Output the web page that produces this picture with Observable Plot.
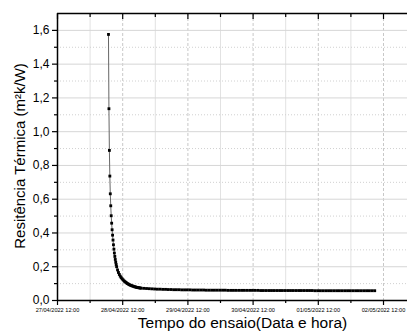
<!DOCTYPE html>
<html>
<head>
<meta charset="utf-8">
<script src="https://cdn.jsdelivr.net/npm/d3@7"></script>
<script src="https://cdn.jsdelivr.net/npm/@observablehq/plot@0.6"></script>
<style>
  html, body { margin: 0; padding: 0; background: #fff; }
  #chart svg { display: block; }
</style>
</head>
<body>
<div id="chart"></div>
<script>
// ---- data ----
const xTitle = "Tempo do ensaio(Data e hora)";
const yTitle = "Resitência Térmica (m²k/W)";
const xDomain = ["2022-04-27T12:00Z", "2022-05-02T20:50Z"];
const yDomain = [0, 1.7];
const majorXTicks = ["2022-04-27T12:00Z", "2022-04-28T12:00Z", "2022-04-29T12:00Z", "2022-04-30T12:00Z", "2022-05-01T12:00Z", "2022-05-02T12:00Z"];
const minorXTicks = ["2022-04-28T00:00Z", "2022-04-29T00:00Z", "2022-04-30T00:00Z", "2022-05-01T00:00Z", "2022-05-02T00:00Z"];
const majorYTicks = [0, 0.2, 0.4, 0.6, 0.8, 1.0, 1.2, 1.4, 1.6];
const minorYTicks = [0.1, 0.3, 0.5, 0.7, 0.9, 1.1, 1.3, 1.5];

// measurement series (sampling start and step, then values)
const seriesStart = "2022-04-28T06:46Z";
// every 10 min from the start (0 .. 180 min)
const values10min = [1.576, 1.136, 0.889, 0.737, 0.632, 0.561, 0.502, 0.458, 0.419, 0.387,
  0.358, 0.330, 0.304, 0.281, 0.261, 0.243, 0.227, 0.213, 0.200];
// every 20 min (200 .. 720 min)
const values20min = [0.181, 0.166, 0.154, 0.144, 0.136, 0.129, 0.123, 0.117, 0.112, 0.108,
  0.104, 0.100, 0.097, 0.094, 0.091, 0.089, 0.087, 0.085, 0.083, 0.081,
  0.080, 0.078, 0.077, 0.076, 0.075, 0.074, 0.073];
// every hour (13 h .. 98 h after the start)
const valuesHourly = [0.072, 0.071, 0.070, 0.069, 0.068, 0.067, 0.067, 0.066, 0.066, 0.065,
  0.065, 0.064, 0.064, 0.064, 0.063, 0.063, 0.063, 0.063, 0.062, 0.062,
  0.062, 0.062, 0.062, 0.061, 0.061, 0.061, 0.061, 0.061, 0.061, 0.061,
  0.061, 0.060, 0.060, 0.060, 0.060, 0.060, 0.060, 0.060, 0.060, 0.060,
  0.060, 0.060, 0.060, 0.059, 0.059, 0.059, 0.059, 0.059, 0.059, 0.059,
  0.059, 0.059, 0.059, 0.059, 0.059, 0.059, 0.059, 0.059, 0.059, 0.059,
  0.059, 0.059, 0.059, 0.058, 0.058, 0.058, 0.058, 0.058, 0.058, 0.058,
  0.058, 0.058, 0.058, 0.058, 0.058, 0.058, 0.058, 0.058, 0.058, 0.058,
  0.058, 0.058, 0.058, 0.058, 0.058, 0.058];

// ---- build table ----
const t0 = new Date(seriesStart).getTime();
const MIN = 60000;
const data = [];
values10min.forEach((v, i) => data.push({t: new Date(t0 + i * 10 * MIN), v}));
values20min.forEach((v, i) => data.push({t: new Date(t0 + (200 + i * 20) * MIN), v}));
valuesHourly.forEach((v, i) => data.push({t: new Date(t0 + (13 + i) * 60 * MIN), v}));

const toDate = s => new Date(s);
const xMaj = majorXTicks.map(toDate);
const xMin = minorXTicks.map(toDate);
const pad = n => String(n).padStart(2, "0");
const fmtDate = d => `${pad(d.getUTCDate())}/${pad(d.getUTCMonth() + 1)}/${d.getUTCFullYear()} ${pad(d.getUTCHours())}:${pad(d.getUTCMinutes())}`;
const fmtY = d => d.toFixed(1).replace(".", ",");
const blank = () => "";

const chart = Plot.plot({
  width: 407,
  height: 336,
  marginLeft: 57,
  marginRight: 0,
  marginTop: 13,
  marginBottom: 36,
  style: {fontFamily: "'Liberation Sans', Arial, sans-serif", background: "#fff", color: "#000"},
  x: {type: "utc", domain: xDomain.map(toDate)},
  y: {domain: yDomain},
  marks: [
    // grids
    Plot.gridX(xMin, {stroke: "#e2e2e2", strokeOpacity: 1, strokeWidth: 1}),
    Plot.gridX(xMaj, {stroke: "#c8c8c8", strokeOpacity: 1, strokeWidth: 1, strokeDasharray: "3,2"}),
    Plot.gridY(majorYTicks, {stroke: "#d6d6d6", strokeOpacity: 1, strokeWidth: 1}),
    Plot.gridY(minorYTicks, {stroke: "#d0d0d0", strokeOpacity: 1, strokeWidth: 1, strokeDasharray: "1,2"}),
    // axes
    Plot.axisX({ticks: xMaj, tickFormat: fmtDate, tickSize: 5, tickPadding: 3, fontSize: 5.6, label: null, strokeWidth: 1.2}),
    Plot.axisX({ticks: xMin, tickFormat: blank, tickSize: 3, label: null, strokeWidth: 1.2}),
    Plot.axisX({anchor: "top", ticks: xMaj, tickFormat: blank, tickSize: -5, label: null, strokeWidth: 1.2}),
    Plot.axisX({anchor: "top", ticks: xMin, tickFormat: blank, tickSize: -3, label: null, strokeWidth: 1.2}),
    Plot.axisY({ticks: majorYTicks, tickFormat: fmtY, tickSize: 5, tickPadding: 3, fontSize: 12, label: null, strokeWidth: 1.2}),
    Plot.axisY({ticks: minorYTicks, tickFormat: blank, tickSize: 3, label: null, strokeWidth: 1.2}),
    Plot.ruleY([0], {strokeWidth: 1.5}),
    Plot.ruleY([yDomain[1]], {strokeWidth: 1.5}),
    Plot.ruleX([toDate(xDomain[0])], {strokeWidth: 1.5}),
    // titles
    Plot.text([xTitle], {frameAnchor: "bottom", dx: 10, dy: 23, fontSize: 15.5, lineAnchor: "middle", textAnchor: "middle"}),
    Plot.text([yTitle], {frameAnchor: "left", dx: -37, dy: -1, rotate: -90, fontSize: 15, lineAnchor: "middle", textAnchor: "middle"}),
    // series
    Plot.line(data, {x: "t", y: "v", stroke: "#666", strokeWidth: 1}),
    Plot.dot(data, {x: "t", y: "v", symbol: "square", r: 1.6, fill: "#000", stroke: null})
  ]
});
document.getElementById("chart").appendChild(chart);
</script>
</body>
</html>
